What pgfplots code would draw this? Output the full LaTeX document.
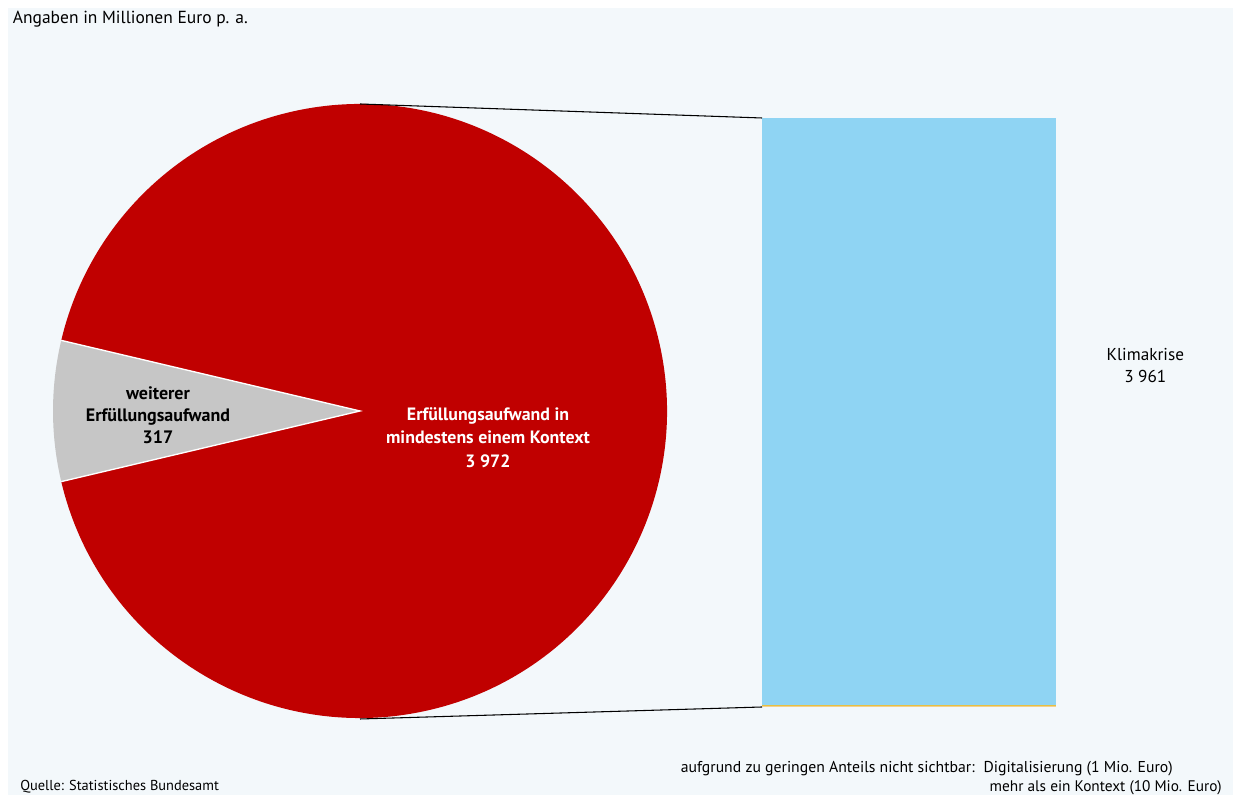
\documentclass[border=0pt]{standalone}
\usepackage{pgfplots}
\pgfplotsset{compat=1.18}
\usepackage{fontspec}
\setmainfont{PT Sans}
\definecolor{bgpanel}{HTML}{F3F8FB}
\definecolor{pred}{HTML}{C00000}
\definecolor{pgray}{HTML}{C6C6C6}
\definecolor{pblue}{HTML}{8FD4F3}
\definecolor{ptan}{HTML}{F2D08E}
\definecolor{pyel}{HTML}{E8C040}

% data (Mio. Euro p. a.)
\def\vRest{317}
\def\vKontext{3972}

\begin{document}
\begin{tikzpicture}
\fill[white] (0,0) rectangle (924.75pt,598.5pt);
\fill[bgpanel] (6pt,2.25pt) rectangle (924.75pt,592.5pt);

\pgfmathsetmacro\aFrac{\vRest/(\vRest+\vKontext)}
\pgfmathsetmacro\aGray{360*\aFrac}
\pgfmathsetmacro\aS{180-\aGray/2}
\pgfmathsetmacro\aE{180+\aGray/2}
\pgfmathsetmacro\aEnd{\aS+360}

\begin{axis}[at={(270pt,290.25pt)}, anchor=center, scale only axis,
  width=460.5pt, height=460.5pt, xmin=-1, xmax=1, ymin=-1, ymax=1,
  hide axis, clip=false]
\fill[pred] (axis cs:0,0) -- (axis cs:{cos(\aE)},{sin(\aE)})
  arc[start angle=\aE, end angle=\aEnd, radius=230.25pt] -- cycle;
\fill[pgray] (axis cs:0,0) -- (axis cs:{cos(\aS)},{sin(\aS)})
  arc[start angle=\aS, end angle=\aE, radius=230.25pt] -- cycle;
\draw[white, line width=1pt] (axis cs:{cos(\aS)},{sin(\aS)}) -- (axis cs:0,0) -- (axis cs:{cos(\aE)},{sin(\aE)});
\end{axis}

\begin{axis}[at={(571.5pt,68.25pt)}, anchor=south west, scale only axis,
  width=220.5pt, height=441.75pt, xmin=-0.5, xmax=0.5, ymin=0, ymax=3972,
  hide axis, ybar stacked, bar width=220.5pt, clip=false]
\addplot[fill=ptan, draw=none] coordinates {(0,10)};
\addplot[fill=pyel, draw=none] coordinates {(0,1)};
\addplot[fill=pblue, draw=none] coordinates {(0,3961)};
\end{axis}

\draw[black, line width=0.8pt] (270pt,520.5pt) -- (571.5pt,510pt);
\draw[black, line width=0.8pt] (270pt,59.25pt) -- (571.5pt,68.25pt);

\node[anchor=west, inner sep=0pt, font=\fontsize{13.1}{15}\selectfont] at (9.5pt,584.25pt) {Angaben in Millionen Euro p. a.};

\node[align=center, inner sep=0pt, font=\fontsize{13.5}{16.5}\selectfont\bfseries, text=black] at (118.5pt,287.25pt) {weiterer\\Erfüllungsaufwand\\317};
\node[align=center, inner sep=0pt, font=\fontsize{13.4}{17.5}\selectfont\bfseries, text=white] at (366pt,270.4pt) {Erfüllungsaufwand in\\mindestens einem Kontext\\3 972};
\node[align=center, inner sep=0pt, font=\fontsize{12.9}{16.5}\selectfont] at (859pt,324.4pt) {Klimakrise\\3 961};

\node[anchor=west, inner sep=0pt, font=\fontsize{10.8}{12}\selectfont] at (15pt,8.25pt) {Quelle: Statistisches Bundesamt};
\node[anchor=east, inner sep=0pt, font=\fontsize{11.8}{13}\selectfont] at (879.75pt,21.75pt) {aufgrund zu geringen Anteils nicht sichtbar:\hspace{2.5pt} Digitalisierung (1 Mio. Euro)};
\node[anchor=east, inner sep=0pt, font=\fontsize{11.5}{13}\selectfont] at (916.5pt,7.5pt) {mehr als ein Kontext (10 Mio. Euro)};

\pgfresetboundingbox
\path[use as bounding box] (0,0) rectangle (924.75pt,598.5pt);
\end{tikzpicture}
\end{document}
